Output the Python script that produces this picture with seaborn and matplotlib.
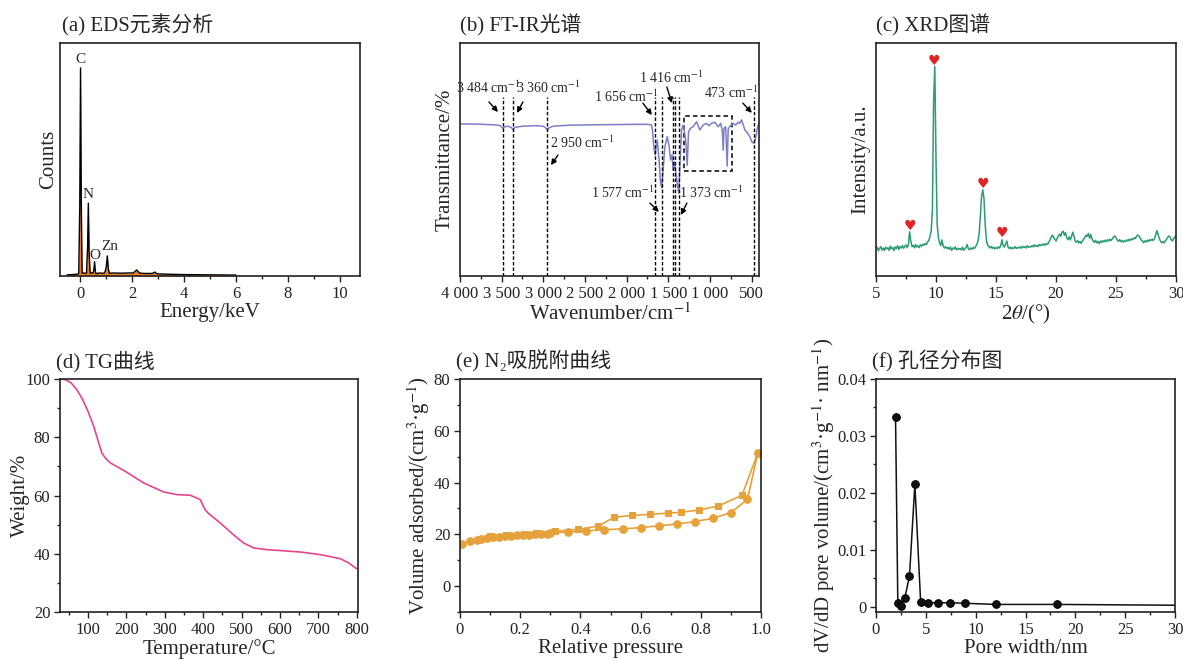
import numpy as np
import pandas as pd
import matplotlib
matplotlib.use("Agg")
import matplotlib.pyplot as plt
import seaborn as sns
from matplotlib.ticker import MultipleLocator, FuncFormatter
from matplotlib.patches import Rectangle

# (a) EDS spectrum
eds_energy = [-0.5, -0.3, -0.1, -0.05, -0.01, 0.02, 0.05, 0.08, 0.15, 0.2,
              0.25, 0.29, 0.32, 0.35, 0.39, 0.45, 0.50, 0.53, 0.56, 0.59,
              0.62, 0.75, 0.85, 0.93, 0.97, 1.01, 1.05, 1.09, 1.13, 1.3,
              1.6, 1.85, 2.05, 2.12, 2.18, 2.24, 2.32, 2.5, 2.78, 2.84,
              2.88, 2.93, 3.0, 3.3, 4.0, 5.0, 6.0]
eds_counts = [0.005, 0.006, 0.008, 0.01, 0.3, 0.893, 0.3, 0.012, 0.013, 0.012,
              0.012, 0.12, 0.313, 0.1, 0.012, 0.014, 0.012, 0.025, 0.061, 0.02,
              0.01, 0.013, 0.012, 0.012, 0.02, 0.04, 0.086, 0.03, 0.012, 0.013,
              0.012, 0.013, 0.013, 0.02, 0.026, 0.018, 0.012, 0.011, 0.011, 0.014,
              0.017, 0.012, 0.009, 0.008, 0.006, 0.005, 0.004]
eds_elements = ["C", "N", "O", "Zn"]
eds_elem_x = [0.02, 0.32, 0.58, 1.15]
eds_elem_y = [0.93, 0.35, 0.09, 0.125]

# (b) FT-IR spectrum
ir_wn = [4000, 3800, 3600, 3520, 3490, 3484, 3470, 3420, 3380, 3360,
         3340, 3250, 3100, 3000, 2960, 2950, 2930, 2880, 2700, 2400,
         2100, 1900, 1750, 1700, 1688, 1672, 1656, 1645, 1632, 1610,
         1592, 1577, 1565, 1540, 1512, 1490, 1472, 1455, 1440, 1425,
         1408, 1392, 1373, 1360, 1340, 1320, 1300, 1288, 1272, 1256,
         1230, 1200, 1160, 1120, 1080, 1040, 1010, 980, 940, 900,
         870, 850, 840, 830, 810, 792, 780, 760, 720, 690,
         660, 640, 620, 600, 580, 550, 520, 495, 473, 455,
         430, 408]
ir_trans = [65.3, 65.2, 64.9, 64.6, 63.5, 63.2, 64.0, 64.3, 63.6, 62.8,
            63.8, 64.3, 64.5, 64.3, 63.2, 62.9, 63.6, 64.3, 64.7, 64.9,
            65.0, 65.1, 65.1, 64.8, 62.0, 55.0, 52.0, 56.0, 58.4, 50.0,
            40.0, 37.8, 44.0, 55.4, 59.8, 56.0, 49.8, 52.0, 45.5, 49.0,
            44.0, 40.0, 35.5, 47.0, 62.7, 64.8, 61.0, 57.0, 47.5, 61.9,
            63.5, 64.1, 66.2, 62.7, 64.8, 65.5, 64.5, 65.5, 66.0, 64.0,
            65.5, 62.0, 54.0, 63.5, 64.0, 47.2, 63.0, 64.3, 65.5, 64.8,
            66.0, 65.5, 67.0, 65.0, 62.7, 61.5, 59.8, 57.5, 57.0, 58.5,
            63.5, 66.0]
ir_marks = [3484, 3360, 2950, 1656, 1577, 1440, 1416, 1373, 473]
ir_labels = [3484, 3360, 2950, 1656, 1577, 1416, 1373, 473]
ir_text_x = [3665, 2935, 2530, 2002, 2050, 1462, 982, 748]
ir_text_y = [80.7, 80.7, 57.1, 76.8, 35.6, 85.0, 35.6, 78.5]
ir_arrow_from = [(3652, 74.7), (3244, 74.7), (2824, 51.9), (1804, 74.2),
                 (1720, 31.3), (1516, 81.1), (1276, 31.3), (604, 74.2)]
ir_arrow_to = [(3544, 70.4), (3316, 70.0), (2908, 47.6), (1696, 69.1),
               (1612, 27.5), (1456, 74.2), (1348, 26.2), (496, 70.0)]

# (c) XRD pattern, sampled every 0.1 deg from 5 to 30
xrd_intensity = [
    11.5, 12.3, 10.8, 11.9, 12.6, 11.1, 12.0, 10.9, 12.4, 11.6,
    12.1, 11.0, 12.8, 11.7, 12.2, 10.9, 12.5, 11.8, 13.0, 11.4,
    12.6, 12.0, 13.1, 11.9, 12.7, 13.3, 12.2, 13.5, 19.0, 15.0,
    12.6, 13.2, 12.1, 13.5, 12.4, 13.0, 12.2, 13.4, 12.8, 13.6,
    13.2, 14.0, 13.5, 14.6, 15.2, 17.0, 19.5, 28.0, 75.0, 90.0,
    50.0, 22.0, 16.5, 14.2, 13.0, 15.5, 12.8, 12.0, 12.6, 11.8,
    12.3, 11.5, 12.4, 11.0, 12.0, 11.6, 12.5, 11.2, 11.9, 11.4,
    11.8, 11.2, 12.4, 11.0, 11.7, 12.2, 13.5, 11.6, 11.3, 12.1,
    11.5, 12.2, 11.8, 12.6, 13.5, 15.0, 18.5, 26.0, 34.5, 37.0,
    33.0, 22.0, 15.5, 13.2, 12.8, 12.0, 12.7, 11.9, 12.4, 11.6,
    12.2, 11.8, 12.5, 12.0, 13.2, 15.5, 13.0, 12.4, 13.6, 15.0,
    12.5, 11.8, 12.4, 11.6, 12.2, 11.9, 12.6, 11.8, 12.3, 12.0,
    12.5, 11.9, 12.8, 12.2, 12.6, 12.0, 13.0, 12.3, 12.7, 12.4,
    13.0, 12.5, 13.4, 12.7, 13.1, 12.6, 13.5, 13.0, 13.6, 13.2,
    13.8, 13.2, 14.0, 13.6, 14.5, 15.5, 16.8, 17.6, 16.5, 15.8,
    15.0, 16.2, 17.2, 18.0, 17.0, 18.8, 19.2, 17.5, 18.6, 16.4,
    15.6, 16.8, 15.5, 17.2, 18.8, 17.0, 15.0, 14.5, 15.2, 14.2,
    14.8, 14.0, 15.0, 15.8, 16.5, 17.5, 17.0, 18.3, 16.2, 17.8,
    16.0, 15.0, 14.5, 15.3, 14.2, 14.8, 13.9, 15.0, 14.4, 15.2,
    14.6, 15.4, 14.8, 15.6, 15.0, 15.8, 15.2, 16.0, 16.8, 17.2,
    16.4, 15.5, 14.9, 15.6, 14.7, 15.3, 14.5, 15.1, 14.8, 15.5,
    15.0, 15.8, 15.2, 16.0, 15.6, 16.4, 16.0, 17.0, 17.6, 17.2,
    16.5, 15.5, 15.0, 14.3, 15.1, 14.6, 15.4, 14.8, 15.6, 15.2,
    15.8, 15.2, 16.0, 17.5, 19.5, 18.0, 16.2, 15.0, 14.3, 14.8,
    14.2, 15.0, 15.6, 16.5, 17.2, 16.8, 15.6, 15.0, 16.0, 16.8,
    17.0]
xrd_angle = np.linspace(5, 30, len(xrd_intensity))
xrd_peak_x = [7.83, 9.86, 13.9, 15.47]
xrd_peak_y = [21.5, 92.3, 39.4, 18.3]

# (d) TG curve
tg_temp = [28, 40, 55, 70, 85, 100, 115, 128, 136, 145, 158, 197, 245, 297,
           332, 366, 392, 405, 414, 444, 479, 505, 531, 566, 653, 705, 757,
           778, 800]
tg_weight = [100, 99.8, 98.8, 96.5, 93.2, 88.9, 83.7, 78.0, 74.6, 72.9, 71.2,
             68.3, 64.3, 61.2, 60.3, 60.1, 58.6, 55.1, 53.8, 50.6, 46.5, 43.7,
             42.0, 41.4, 40.6, 39.7, 38.3, 36.9, 34.8]

# (e) N2 isotherm
ads_p = [0.008, 0.033, 0.057, 0.069, 0.09, 0.108, 0.13, 0.15, 0.17, 0.19,
         0.21, 0.23, 0.25, 0.27, 0.29, 0.30, 0.36, 0.42, 0.48, 0.54,
         0.60, 0.66, 0.72, 0.78, 0.84, 0.90, 0.955, 0.99]
ads_v = [16.4, 17.4, 18.0, 18.2, 18.6, 19.0, 19.1, 19.3, 19.5, 19.6,
         19.8, 19.9, 20.1, 20.2, 20.3, 20.5, 20.9, 21.3, 21.8, 22.1,
         22.6, 23.3, 24.0, 24.9, 26.2, 28.4, 33.5, 51.6]
des_p = [0.99, 0.937, 0.858, 0.794, 0.734, 0.692, 0.631, 0.572, 0.513, 0.459,
         0.393, 0.316, 0.254, 0.212, 0.152, 0.10]
des_v = [51.6, 35.1, 30.9, 29.4, 28.5, 28.2, 27.7, 27.3, 26.6, 23.2,
         21.9, 21.2, 20.6, 20.3, 19.9, 19.3]

# (f) pore size distribution
pore_w = [1.96, 2.19, 2.53, 2.9, 3.36, 3.9, 4.48, 5.22, 6.26, 7.45, 8.97,
          12.07, 18.2, 35.0]
pore_v = [0.0333, 0.0006, 0.0002, 0.0016, 0.0054, 0.0215, 0.0008, 0.0007,
          0.0007, 0.0007, 0.0006, 0.0004, 0.0004, 0.0002]

sns.set_style("ticks")
plt.rcParams["font.family"] = ["Liberation Serif", "Noto Sans CJK SC", "DejaVu Sans"]
plt.rcParams["mathtext.fontset"] = "stix"
plt.rcParams["axes.unicode_minus"] = False

fig = plt.figure(figsize=(11.83, 6.6), dpi=100)
W, H = 1183, 660


def add_ax(left, right, top, bottom):
    return fig.add_axes([left / W, (H - bottom) / H, (right - left) / W, (bottom - top) / H])


def style(ax, title, tx):
    for s in ax.spines.values():
        s.set_linewidth(1.2)
        s.set_color("#222222")
        s.set_visible(True)
    ax.tick_params(which="major", length=4, width=1, labelsize=12, direction="out",
                   colors="#222222", pad=3)
    ax.tick_params(which="minor", length=2.5, width=1, direction="out", colors="#222222")
    ax.text(tx, 1.075, title, transform=ax.transAxes, fontsize=15, ha="left", va="center")


ax_a = add_ax(60, 360, 43, 276)
ax_b = add_ax(460, 759, 43, 276)
ax_c = add_ax(876, 1176, 43, 276)
ax_d = add_ax(60, 358, 379, 612)
ax_e = add_ax(460, 761, 379, 612)
ax_f = add_ax(876, 1175, 379, 612)

# (a)
ax_a.fill_between(eds_energy, 0, eds_counts, color="#ee7d22", lw=0)
sns.lineplot(x=eds_energy, y=eds_counts, color="black", lw=1, sort=False, ax=ax_a)
for el, ex, ey in zip(eds_elements, eds_elem_x, eds_elem_y):
    ax_a.text(ex, ey, el, fontsize=11, ha="center", va="center")
ax_a.set_xlim(-0.77, 10.77)
ax_a.set_ylim(0, 1)
ax_a.set_yticks([])
ax_a.xaxis.set_major_locator(MultipleLocator(2))
ax_a.xaxis.set_minor_locator(MultipleLocator(1))
ax_a.set_xlabel("Energy/keV", fontsize=15, labelpad=1)
ax_a.set_ylabel("Counts", fontsize=15, labelpad=1)
style(ax_a, "(a) EDS元素分析", 0.005)

# (b)
sns.lineplot(x=ir_wn, y=ir_trans, color="#7c7fc6", lw=1.1, ax=ax_b)
ax_b.vlines(ir_marks, 0, 77, colors="black", linestyles=(0, (2.5, 1.5)), lw=1.0)
ax_b.add_patch(Rectangle((1310, 45.2), 740 - 1310, 68.8 - 45.2, fill=False,
                         ls=(0, (3, 2)), lw=1.1, ec="black"))
for wn, lx, ly, a0, a1 in zip(ir_labels, ir_text_x, ir_text_y, ir_arrow_from, ir_arrow_to):
    lab = f"{wn:,}".replace(",", " ") + " cm$^{-1}$"
    ax_b.text(lx, ly, lab, fontsize=10, ha="center", va="center")
    ax_b.annotate("", xy=a1, xytext=a0,
                  arrowprops=dict(arrowstyle="-|>", color="black", lw=1, mutation_scale=8,
                                  shrinkA=0, shrinkB=0))
ax_b.set_xlim(4000, 410)
ax_b.set_ylim(0, 100)
ax_b.set_yticks([])
ax_b.xaxis.set_major_locator(MultipleLocator(500))
ax_b.xaxis.set_minor_locator(MultipleLocator(250))
ax_b.xaxis.set_major_formatter(FuncFormatter(lambda v, _: f"{int(v):,}".replace(",", " ")))
ax_b.set_xlabel("Wavenumber/cm$^{-1}$", fontsize=15, labelpad=1)
ax_b.set_ylabel("Transmittance/%", fontsize=15, labelpad=4)
style(ax_b, "(b) FT-IR光谱", 0.0)

# (c)
sns.lineplot(x=xrd_angle, y=xrd_intensity, color="#2e9a77", lw=1.1, ax=ax_c)
for hx, hy in zip(xrd_peak_x, xrd_peak_y):
    ax_c.text(hx, hy, "\u2665", color="#e02424", fontsize=10, ha="center", va="center",
              family="DejaVu Sans")
ax_c.set_xlim(5, 30)
ax_c.set_ylim(0, 100)
ax_c.set_yticks([])
ax_c.xaxis.set_major_locator(MultipleLocator(5))
ax_c.xaxis.set_minor_locator(MultipleLocator(2.5))
ax_c.set_xlabel("2$\\theta$/(°)", fontsize=15, labelpad=1)
ax_c.set_ylabel("Intensity/a.u.", fontsize=15, labelpad=4)
style(ax_c, "(c) XRD图谱", 0.0)

# (d)
sns.lineplot(x=tg_temp, y=tg_weight, color="#e4468b", lw=1.2, ax=ax_d)
ax_d.set_xlim(27, 803)
ax_d.set_ylim(20, 100)
ax_d.xaxis.set_major_locator(MultipleLocator(100))
ax_d.xaxis.set_minor_locator(MultipleLocator(50))
ax_d.yaxis.set_major_locator(MultipleLocator(20))
ax_d.yaxis.set_minor_locator(MultipleLocator(10))
ax_d.set_xlabel("Temperature/°C", fontsize=15, labelpad=1)
ax_d.set_ylabel("Weight/%", fontsize=15, labelpad=-3)
style(ax_d, "(d) TG曲线", -0.015)

# (e)
n2_color = "#e6a23a"
sns.lineplot(x=ads_p, y=ads_v, color=n2_color, lw=1.2, marker="o", markersize=5.5,
             markeredgecolor=n2_color, sort=False, ax=ax_e)
sns.lineplot(x=des_p, y=des_v, color=n2_color, lw=1.2, marker="s", markersize=5,
             markeredgecolor=n2_color, sort=False, ax=ax_e)
ax_e.set_xlim(0, 1.0)
ax_e.set_ylim(-10, 80)
ax_e.xaxis.set_major_locator(MultipleLocator(0.2))
ax_e.xaxis.set_minor_locator(MultipleLocator(0.1))
ax_e.yaxis.set_major_locator(MultipleLocator(20))
ax_e.yaxis.set_minor_locator(MultipleLocator(10))
ax_e.xaxis.set_major_formatter(FuncFormatter(lambda v, _: "0" if abs(v) < 1e-9 else f"{v:.1f}"))
ax_e.set_xlabel("Relative pressure", fontsize=15, labelpad=1)
ax_e.set_ylabel("Volume adsorbed/(cm$^3$·g$^{-1}$)", fontsize=15, labelpad=1)
style(ax_e, "(e) N\u2082吸脱附曲线", -0.012)

# (f)
sns.lineplot(x=pore_w, y=pore_v, color="#111111", lw=1.1, marker="o", markersize=5.5,
             markeredgecolor="#000000", sort=False, ax=ax_f)
ax_f.set_xlim(0, 30)
ax_f.set_ylim(-0.00093, 0.04)
ax_f.xaxis.set_major_locator(MultipleLocator(5))
ax_f.xaxis.set_minor_locator(MultipleLocator(2.5))
ax_f.yaxis.set_major_locator(MultipleLocator(0.01))
ax_f.yaxis.set_minor_locator(MultipleLocator(0.005))
ax_f.yaxis.set_major_formatter(FuncFormatter(lambda v, _: "0" if abs(v) < 1e-9 else f"{v:.2f}"))
ax_f.set_xlabel("Pore width/nm", fontsize=15, labelpad=1)
ax_f.set_ylabel("dV/dD pore volume/(cm$^3$·g$^{-1}$· nm$^{-1}$)", fontsize=15, labelpad=0)
style(ax_f, "(f) 孔径分布图", -0.013)

fig.savefig("out.png", dpi=100)
